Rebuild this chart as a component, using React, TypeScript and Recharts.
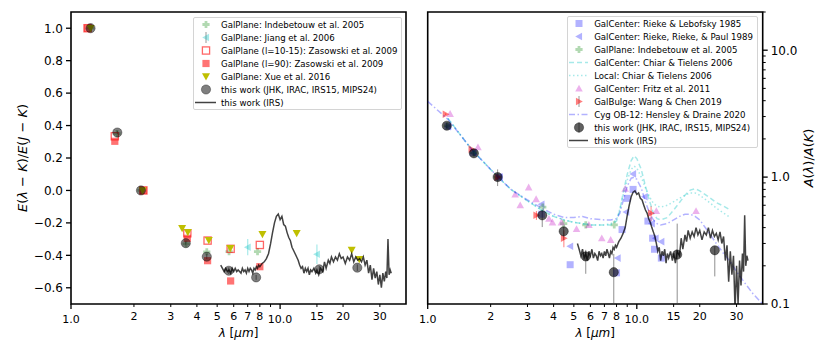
import React from "react";
import {
  ComposedChart,
  ErrorBar,
  Label,
  Legend,
  ReferenceArea,
  Scatter,
  XAxis,
  YAxis,
} from "recharts";

const FONT = '"DejaVu Sans", sans-serif';

// ---------- left panel: E(lambda - K) / E(J - K) ----------
const indebLam = [1.24, 1.66, 2.16, 3.55, 4.46, 5.7, 7.8];
const indebE = [1.0, 0.35, 0.0, -0.33, -0.378, -0.377, -0.377];

const jiangLam = [7.0, 15.0];
const jiangE = [-0.35, -0.393];
const jiangErr = [0.05, 0.06];

const zasOpenLam = [1.2, 1.62, 2.22, 3.6, 4.5, 5.8, 8.0];
const zasOpenE = [1.0, 0.334, 0.0, -0.264, -0.309, -0.36, -0.336];

const zasFullLam = [1.2, 1.62, 2.22, 3.6, 4.5, 5.8, 8.0];
const zasFullE = [1.0, 0.303, 0.0, -0.295, -0.433, -0.558, -0.47];

const xueLam = [1.24, 2.2, 3.4, 3.62, 4.56, 5.78, 8.23, 12.0, 22.0, 23.9];
const xueE = [1.0, 0.0, -0.233, -0.257, -0.307, -0.356, -0.27, -0.264, -0.367, -0.424];

const workLamL = [1.24, 1.665, 2.16, 3.54, 4.46, 5.68, 7.68, 15.4, 23.4];
const workE = [1.0, 0.357, 0.0, -0.325, -0.408, -0.495, -0.536, -0.486, -0.476];
const workEErr = [0.005, 0.01, 0.005, 0.01, 0.015, 0.02, 0.015, 0.02, 0.02];

// IRS spectrum wavelength grid (shared by both panels)
const irsLam = [
  5.2, 5.3, 5.4, 5.5, 5.6, 5.7, 5.8, 5.9, 6.0, 6.1, 6.2, 6.3, 6.4, 6.5, 6.6, 6.7, 6.8, 6.9, 7.0, 7.1,
  7.2, 7.3, 7.4, 7.5, 7.6, 7.7, 7.8, 7.9, 8.0,
  8.2, 8.4, 8.6, 8.8, 9.0, 9.2, 9.4, 9.6, 9.8, 10.0, 10.2, 10.4, 10.6, 10.8, 11.0, 11.2, 11.4, 11.6,
  11.8, 12.0, 12.2, 12.4, 12.6, 12.8, 13.0, 13.2, 13.4, 13.6, 13.8, 14.0, 14.2,
  14.5, 14.8, 15.0, 15.3, 15.6, 16.0, 16.3, 16.6, 17.0, 17.3, 17.6, 18.0, 18.4, 18.8, 19.2, 19.6, 20.0,
  20.5, 21.0, 21.5, 22.0, 22.5, 23.0, 23.5, 24.0, 24.5, 25.0, 25.5, 26.0, 26.5, 27.0, 27.5, 28.0,
  28.5, 29.0, 29.5, 30.0, 30.5, 31.0, 31.5, 32.0,
  32.4, 32.8, 33.2, 33.6, 34.0,
];

const irsE = [
  -0.46, -0.48, -0.5, -0.48, -0.5, -0.49, -0.51, -0.48, -0.5, -0.48, -0.5, -0.49, -0.5, -0.51, -0.48,
  -0.5, -0.49, -0.51, -0.48, -0.5, -0.48, -0.49, -0.51, -0.48, -0.49, -0.47, -0.48, -0.46, -0.47,
  -0.45, -0.44, -0.42, -0.39, -0.33, -0.26, -0.2, -0.16, -0.145, -0.18,
  -0.16, -0.21, -0.22, -0.26, -0.29, -0.31, -0.35, -0.37, -0.39, -0.41,
  -0.43, -0.46, -0.48, -0.47, -0.51, -0.48, -0.5, -0.48, -0.52, -0.49, -0.5,
  -0.48, -0.51, -0.49, -0.52, -0.48, -0.5, -0.44, -0.48, -0.43, -0.45, -0.41, -0.44, -0.41, -0.43,
  -0.39, -0.42, -0.41,
  -0.45, -0.41, -0.43, -0.39, -0.44, -0.41, -0.43, -0.42, -0.44, -0.41, -0.46, -0.43, -0.51, -0.46,
  -0.55, -0.48, -0.54, -0.5, -0.58, -0.52, -0.6, -0.51, -0.56, -0.5,
  -0.54, -0.3, -0.52, -0.49, -0.51,
];

// ---------- right panel: A(lambda) / A(K) ----------
const rlLam = [1.25, 1.65, 2.2, 3.5, 4.8, 8.0, 8.5, 9.0, 9.6, 11.3, 11.9, 12.15, 13.1];
const rlA = [2.52, 1.56, 1.0, 0.51, 0.204, 0.176, 0.386, 0.68, 0.8, 0.45, 0.33, 0.27, 0.23];

const rrpLam = [1.25, 1.65, 2.2, 3.5, 4.8, 8.1, 8.9, 9.6, 10.9, 11.8, 12.3, 13.1];
const rrpA = [2.5, 1.55, 1.0, 0.61, 0.285, 0.23, 0.53, 1.06, 0.7, 0.43, 0.33, 0.31];

const indebLamR = [1.24, 1.66, 2.16, 3.55, 4.47, 5.7, 7.8];
const indebA = [2.53, 1.55, 1.0, 0.58, 0.43, 0.42, 0.42];

const chiarLam = [
  1.25, 1.5, 1.65, 2.0, 2.2, 2.5, 3.0, 3.5, 4.0, 4.5, 5.0, 5.5, 6.0, 7.0, 7.5, 8.0, 8.3, 8.6, 9.0, 9.4,
  9.7, 10.0, 10.5, 11.0, 11.5, 12.0, 12.5, 13.0, 14.0, 15.0, 16.0, 17.0, 18.0, 19.0, 20.0, 22.0, 24.0,
  26.0, 27.5,
];
const chiarGcA = [
  2.9, 1.95, 1.6, 1.15, 0.98, 0.8, 0.65, 0.55, 0.49, 0.46, 0.44, 0.43, 0.42, 0.42, 0.42, 0.45, 0.55,
  0.75, 1.05, 1.35, 1.47, 1.4, 1.15, 0.85, 0.65, 0.52, 0.47, 0.46, 0.48, 0.55, 0.63, 0.72, 0.79, 0.81,
  0.78, 0.7, 0.63, 0.59, 0.56,
];
const chiarLocA = [
  2.9, 1.95, 1.6, 1.15, 0.98, 0.8, 0.65, 0.55, 0.49, 0.46, 0.44, 0.43, 0.42, 0.42, 0.43, 0.46, 0.56,
  0.72, 0.95, 1.15, 1.22, 1.18, 1.0, 0.82, 0.7, 0.62, 0.59, 0.58, 0.6, 0.64, 0.68, 0.72, 0.75, 0.75,
  0.72, 0.64, 0.57, 0.52, 0.49,
];

const fritzLam = [1.28, 1.74, 2.17, 2.62, 2.77, 3.04, 3.3, 3.8, 3.95, 4.36, 5.15, 5.9, 6.8, 7.5, 8.8, 12.4, 19.2];
const fritzA = [3.15, 1.72, 1.0, 0.73, 0.6, 0.83, 0.67, 0.47, 0.44, 0.44, 0.39, 0.42, 0.33, 0.32, 0.81, 0.54, 0.54];

const wangLam = [1.22, 1.62, 2.16, 3.31, 4.48, 11.7];
const wangA = [3.13, 1.66, 1.0, 0.5, 0.33, 0.52];
const wangErr = [0.05, 0.03, 0.02, 0.04, 0.05, 0.07];

const hdLam = [
  1.0, 1.25, 1.5, 1.65, 2.0, 2.2, 2.5, 3.0, 3.5, 4.0, 4.5, 5.0, 5.5, 6.0, 7.0, 7.5, 8.0, 8.3, 8.6, 9.0,
  9.4, 9.7, 10.0, 10.5, 11.0, 11.5, 12.0, 12.5, 13.0, 14.0, 15.0, 16.0, 17.0, 18.0, 19.0, 20.0, 22.0,
  24.0, 26.0, 28.0, 30.0, 33.0, 36.0, 40.0,
];
const hdA = [
  3.95, 2.85, 1.95, 1.6, 1.15, 0.98, 0.8, 0.66, 0.57, 0.51, 0.48, 0.48, 0.49, 0.47, 0.46, 0.46, 0.47,
  0.52, 0.65, 0.85, 0.98, 1.0, 0.96, 0.82, 0.64, 0.52, 0.46, 0.43, 0.42, 0.43, 0.46, 0.49, 0.51, 0.51,
  0.49, 0.46, 0.37, 0.3, 0.25, 0.215, 0.18, 0.145, 0.12, 0.1,
];

const workLamR = [1.234, 1.663, 2.16, 3.53, 4.47, 5.7, 7.76, 15.6, 23.6];
const workA = [2.54, 1.54, 1.0, 0.5, 0.374, 0.237, 0.178, 0.245, 0.265];
const workALow = [0.12, 0.08, 0.15, 0.096, 0.055, 0.064, 0.078, 0.145, 0.1];
const workAHigh = [0.12, 0.08, 0.15, 0.05, 0.03, 0.03, 0.07, 0.185, 0.02];

const irsA = [
  0.3, 0.27, 0.24, 0.27, 0.23, 0.25, 0.22, 0.26, 0.24, 0.27, 0.23, 0.25, 0.24, 0.22, 0.26, 0.24, 0.25,
  0.23, 0.26, 0.24, 0.27, 0.25, 0.23, 0.26, 0.25, 0.28, 0.27, 0.29, 0.28,
  0.31, 0.33, 0.36, 0.4, 0.5, 0.6, 0.7, 0.76, 0.78, 0.73,
  0.75, 0.68, 0.66, 0.6, 0.55, 0.52, 0.47, 0.44, 0.4, 0.37,
  0.34, 0.3, 0.26, 0.28, 0.22, 0.26, 0.24, 0.27, 0.21, 0.25, 0.23,
  0.26, 0.22, 0.25, 0.21, 0.26, 0.24, 0.33, 0.27, 0.35, 0.31, 0.38, 0.33, 0.37, 0.34, 0.4, 0.35, 0.38,
  0.32, 0.37, 0.35, 0.4, 0.33, 0.38, 0.34, 0.36, 0.32, 0.37, 0.3, 0.34, 0.22, 0.29, 0.15, 0.26, 0.17,
  0.24, 0.09, 0.2, 0.1, 0.22, 0.14, 0.25,
  0.18, 0.5, 0.2, 0.24, 0.22,
];

// ---------- axes ----------
const xTicks = [1, 2, 3, 4, 5, 6, 7, 8, 9, 10, 15, 20, 30];
const leftYTicks = [-0.6, -0.4, -0.2, 0, 0.2, 0.4, 0.6, 0.8, 1.0];
const rightYTicks = [
  0.1, 0.2, 0.3, 0.4, 0.5, 0.6, 0.7, 0.8, 0.9, 1, 2, 3, 4, 5, 6, 7, 8, 9, 10, 20,
];

const pts = (xs: number[], ys: number[], es?: any[]) =>
  xs.map((x, i) => ({ x, y: ys[i], e: es ? es[i] : 0 }));

type MarkSpec = {
  kind: string;
  r: number;
  fill?: string;
  fillOpacity?: number;
  stroke?: string;
  strokeOpacity?: number;
  strokeWidth?: number;
};

function Mark({ s, cx, cy }: { s: MarkSpec; cx: number; cy: number }) {
  if (cx == null || cy == null || isNaN(cx) || isNaN(cy)) return <g />;
  const r = s.r;
  const st = {
    fill: s.fill ?? "none",
    fillOpacity: s.fillOpacity ?? 1,
    stroke: s.stroke ?? "none",
    strokeOpacity: s.strokeOpacity ?? 1,
    strokeWidth: s.strokeWidth ?? 1,
  };
  const poly = (p: number[][]) => (
    <polygon points={p.map(([a, b]) => `${cx + a},${cy + b}`).join(" ")} {...st} />
  );
  switch (s.kind) {
    case "circle":
      return <circle cx={cx} cy={cy} r={r} {...st} />;
    case "square":
      return <rect x={cx - r} y={cy - r} width={2 * r} height={2 * r} {...st} />;
    case "up":
      return poly([[0, -r], [-r, r * 0.8], [r, r * 0.8]]);
    case "down":
      return poly([[0, r], [-r, -r * 0.8], [r, -r * 0.8]]);
    case "left":
      return poly([[-r, 0], [r * 0.8, -r], [r * 0.8, r]]);
    case "right":
      return poly([[r, 0], [-r * 0.8, -r], [-r * 0.8, r]]);
    case "plus": {
      const t = r / 2.6;
      return poly([
        [-t, -r], [t, -r], [t, -t], [r, -t], [r, t], [t, t],
        [t, r], [-t, r], [-t, t], [-r, t], [-r, -t], [-t, -t],
      ]);
    }
    default:
      return <g />;
  }
}

const shapeOf = (s: MarkSpec) => (p: any) => <Mark s={s} cx={p.cx} cy={p.cy} />;
const noShape = () => <g />;

// marker styles
const mIndeb: MarkSpec = { kind: "plus", r: 3.6, fill: "#008000", fillOpacity: 0.3 };
const mJiang: MarkSpec = { kind: "left", r: 3.8, fill: "#00bfbf", fillOpacity: 0.35 };
const mZasOpen: MarkSpec = { kind: "square", r: 3.6, stroke: "#ff0000", strokeOpacity: 0.6, strokeWidth: 1.3 };
const mZasFull: MarkSpec = { kind: "square", r: 3.6, fill: "#ff0000", fillOpacity: 0.55 };
const mXue: MarkSpec = { kind: "down", r: 4, fill: "#bfbf00" };
const mWorkL: MarkSpec = { kind: "circle", r: 4.6, fill: "#000", fillOpacity: 0.5, stroke: "#000", strokeOpacity: 0.35 };
const mRL: MarkSpec = { kind: "square", r: 3.5, fill: "#0000ff", fillOpacity: 0.3 };
const mRRP: MarkSpec = { kind: "left", r: 3.8, fill: "#0000ff", fillOpacity: 0.3 };
const mFritz: MarkSpec = { kind: "up", r: 3.8, fill: "#bf00bf", fillOpacity: 0.3 };
const mWang: MarkSpec = { kind: "right", r: 3.8, fill: "#ff0000", fillOpacity: 0.5 };
const mWorkR: MarkSpec = { kind: "circle", r: 4.6, fill: "#000", fillOpacity: 0.62, stroke: "#000", strokeOpacity: 0.4 };

const lineIRS = { stroke: "#000", strokeOpacity: 0.74, strokeWidth: 1.5 };
const lineChiarGc = { stroke: "#00bfbf", strokeOpacity: 0.35, strokeWidth: 1.5, strokeDasharray: "5 3" };
const lineChiarLoc = { stroke: "#00bfbf", strokeOpacity: 0.35, strokeWidth: 1.5, strokeDasharray: "1.5 2.5" };
const lineHD = { stroke: "#0000ff", strokeOpacity: 0.3, strokeWidth: 1.5, strokeDasharray: "6 2.5 1.5 2.5" };

// ---------- ticks & labels ----------
function XTick(props: any) {
  const { x, y, payload } = props;
  const v = payload.value;
  const major = v === 1 || v === 10;
  const text = v === 1 ? "1.0" : v === 10 ? "10.0" : v === 9 ? "" : String(v);
  return (
    <g>
      <line x1={x} x2={x} y1={y} y2={y + (major ? 5 : 3)} stroke="#000" strokeWidth={major ? 1.3 : 1} />
      <text x={x} y={y + (major ? 19 : 15.5)} textAnchor="middle" fontFamily={FONT} fontSize={11} fill="#000">
        {text}
      </text>
    </g>
  );
}

function LeftYTick(props: any) {
  const { x, y, payload } = props;
  const text = Number(payload.value).toFixed(1).replace("-", "\u2212");
  return (
    <g>
      <line x1={x - 5} x2={x} y1={y} y2={y} stroke="#000" strokeWidth={1.3} />
      <text x={x - 8} y={y + 4.3} textAnchor="end" fontFamily={FONT} fontSize={12} fill="#000">
        {text}
      </text>
    </g>
  );
}

function RightYTick(props: any) {
  const { x, y, payload } = props;
  const v = payload.value;
  const major = v === 0.1 || v === 1 || v === 10;
  const text = v === 0.1 ? "0.1" : v === 1 ? "1.0" : v === 10 ? "10.0" : "";
  return (
    <g>
      <line x1={x} x2={x + (major ? 5 : 3)} y1={y} y2={y} stroke="#000" strokeWidth={major ? 1.3 : 1} />
      <text x={x + 8} y={y + 4.3} textAnchor="start" fontFamily={FONT} fontSize={12} fill="#000">
        {text}
      </text>
    </g>
  );
}

function XLabel(props: any) {
  const vb = props.viewBox || { x: 0, y: 0, width: 0, height: 0 };
  return (
    <text x={vb.x + vb.width / 2} y={vb.y + 33} textAnchor="middle" fontFamily={FONT} fontSize={12} fill="#000">
      <tspan fontStyle="italic">λ</tspan> [<tspan fontStyle="italic">μm</tspan>]
    </text>
  );
}

function LeftYLabel(props: any) {
  const vb = props.viewBox || { x: 0, y: 0, width: 0, height: 0 };
  const cx = vb.x + 27;
  const cy = vb.y + vb.height / 2;
  return (
    <text transform={`translate(${cx},${cy}) rotate(-90)`} textAnchor="middle" fontFamily={FONT} fontSize={13} fill="#000">
      <tspan fontStyle="italic">E</tspan>(<tspan fontStyle="italic">λ</tspan> − <tspan fontStyle="italic">K</tspan>)/<tspan fontStyle="italic">E</tspan>(<tspan fontStyle="italic">J</tspan> − <tspan fontStyle="italic">K</tspan>)
    </text>
  );
}

function RightYLabel(props: any) {
  const vb = props.viewBox || { x: 0, y: 0, width: 0, height: 0 };
  const cx = vb.x + 50;
  const cy = vb.y + vb.height / 2;
  return (
    <text transform={`translate(${cx},${cy}) rotate(-90)`} textAnchor="middle" fontFamily={FONT} fontSize={13} fill="#000">
      <tspan fontStyle="italic">A</tspan>(<tspan fontStyle="italic">λ</tspan>)/<tspan fontStyle="italic">A</tspan>(<tspan fontStyle="italic">K</tspan>)
    </text>
  );
}

// ---------- legends ----------
type LegendItem = { label: string; mark?: MarkSpec; line?: any; err?: boolean };

const leftLegend: LegendItem[] = [
  { label: "GalPlane: Indebetouw et al. 2005", mark: mIndeb },
  { label: "GalPlane: Jiang et al. 2006", mark: mJiang, err: true },
  { label: "GalPlane (l=10-15): Zasowski et al. 2009", mark: mZasOpen },
  { label: "GalPlane (l=90): Zasowski et al. 2009", mark: mZasFull },
  { label: "GalPlane: Xue et al. 2016", mark: mXue },
  { label: "this work (JHK, IRAC, IRS15, MIPS24)", mark: mWorkL },
  { label: "this work (IRS)", line: lineIRS },
];

const rightLegend: LegendItem[] = [
  { label: "GalCenter: Rieke & Lebofsky 1985", mark: mRL },
  { label: "GalCenter: Rieke, Rieke, & Paul 1989", mark: mRRP },
  { label: "GalPlane: Indebetouw et al. 2005", mark: mIndeb },
  { label: "GalCenter: Chiar & Tielens 2006", line: lineChiarGc },
  { label: "Local: Chiar & Tielens 2006", line: lineChiarLoc },
  { label: "GalCenter: Fritz et al. 2011", mark: mFritz },
  { label: "GalBulge: Wang & Chen 2019", mark: mWang, err: true },
  { label: "Cyg OB-12: Hensley & Draine 2020", line: lineHD },
  { label: "this work (JHK, IRAC, IRS15, MIPS24)", mark: mWorkR, err: true },
  { label: "this work (IRS)", line: lineIRS },
];

function LegendBox({ items, iconW, gap }: { items: LegendItem[]; iconW: number; gap: number }) {
  return (
    <div
      style={{
        background: "rgba(255,255,255,0.8)",
        border: "1px solid #d4d4d4",
        borderRadius: 2,
        fontFamily: FONT,
        fontSize: 8.6,
        color: "#000",
      }}
    >
      {items.map((it) => (
        <div key={it.label} style={{ display: "flex", alignItems: "center", height: 13 }}>
          <svg width={iconW} height={13} style={{ display: "block" }}>
            {it.line ? (
              <line x1={1} x2={iconW - 2} y1={6.5} y2={6.5} {...it.line} />
            ) : (
              <g>
                {it.err && <line x1={iconW / 2} x2={iconW / 2} y1={1} y2={12} stroke="#555" strokeOpacity={0.6} />}
                <Mark s={it.mark as MarkSpec} cx={iconW / 2} cy={6.5} />
              </g>
            )}
          </svg>
          <span style={{ marginLeft: gap, whiteSpace: "nowrap" }}>{it.label}</span>
        </div>
      ))}
    </div>
  );
}

function LeftPanel() {
  return (
    <ComposedChart width={415} height={356} margin={{ top: 12, right: 9, bottom: 0, left: 0 }}>
      <XAxis
        type="number"
        dataKey="x"
        scale="log"
        domain={[1, 40]}
        allowDataOverflow
        ticks={xTicks}
        interval={0}
        tick={(p: any) => <XTick {...p} />}
        tickLine={false}
        axisLine={false}
        tickSize={0}
        tickMargin={0}
        height={52}
      >
        <Label content={(p: any) => <XLabel {...p} />} />
      </XAxis>
      <YAxis
        type="number"
        dataKey="y"
        domain={[-0.7, 1.1]}
        allowDataOverflow
        ticks={leftYTicks}
        interval={0}
        tick={(p: any) => <LeftYTick {...p} />}
        tickLine={false}
        axisLine={false}
        tickSize={0}
        tickMargin={0}
        width={71}
      >
        <Label content={(p: any) => <LeftYLabel {...p} />} />
      </YAxis>
      <ReferenceArea x1={1} x2={40} y1={-0.7} y2={1.1} fill="none" stroke="#000" strokeWidth={1.6} />
      <Scatter data={pts(indebLam, indebE)} shape={shapeOf(mIndeb)} isAnimationActive={false} />
      <Scatter data={pts(jiangLam, jiangE, jiangErr)} shape={shapeOf(mJiang)} isAnimationActive={false}>
        <ErrorBar dataKey="e" direction="y" width={0} stroke="#00bfbf" strokeOpacity={0.35} strokeWidth={1.2} />
      </Scatter>
      <Scatter data={pts(zasOpenLam, zasOpenE)} shape={shapeOf(mZasOpen)} isAnimationActive={false} />
      <Scatter data={pts(zasFullLam, zasFullE)} shape={shapeOf(mZasFull)} isAnimationActive={false} />
      <Scatter data={pts(xueLam, xueE)} shape={shapeOf(mXue)} isAnimationActive={false} />
      <Scatter data={pts(workLamL, workE, workEErr)} shape={shapeOf(mWorkL)} isAnimationActive={false}>
        <ErrorBar dataKey="e" direction="y" width={0} stroke="#333" strokeOpacity={0.6} strokeWidth={1} />
      </Scatter>
      <Scatter data={pts(irsLam, irsE)} line={lineIRS} shape={noShape} isAnimationActive={false} />
      <Legend
        layout="vertical"
        align="center"
        verticalAlign="middle"
        wrapperStyle={{ left: 193, top: 17, width: 209 }}
        content={() => <LegendBox items={leftLegend} iconW={24} gap={3} />}
      />
    </ComposedChart>
  );
}

function RightPanel() {
  const workErr = workALow.map((lo, i) => [lo, workAHigh[i]]);
  return (
    <ComposedChart width={415} height={356} margin={{ top: 12, right: 0, bottom: 0, left: 12.7 }}>
      <XAxis
        type="number"
        dataKey="x"
        scale="log"
        domain={[1, 40]}
        allowDataOverflow
        ticks={xTicks}
        interval={0}
        tick={(p: any) => <XTick {...p} />}
        tickLine={false}
        axisLine={false}
        tickSize={0}
        tickMargin={0}
        height={52}
      >
        <Label content={(p: any) => <XLabel {...p} />} />
      </XAxis>
      <YAxis
        type="number"
        dataKey="y"
        orientation="right"
        scale="log"
        domain={[0.1, 20]}
        allowDataOverflow
        ticks={rightYTicks}
        interval={0}
        tick={(p: any) => <RightYTick {...p} />}
        tickLine={false}
        axisLine={false}
        tickSize={0}
        tickMargin={0}
        width={67.3}
      >
        <Label content={(p: any) => <RightYLabel {...p} />} />
      </YAxis>
      <ReferenceArea x1={1} x2={40} y1={0.1} y2={20} fill="none" stroke="#000" strokeWidth={1.6} />
      <Scatter data={pts(rlLam, rlA)} shape={shapeOf(mRL)} isAnimationActive={false} />
      <Scatter data={pts(rrpLam, rrpA)} shape={shapeOf(mRRP)} isAnimationActive={false} />
      <Scatter data={pts(indebLamR, indebA)} shape={shapeOf(mIndeb)} isAnimationActive={false} />
      <Scatter data={pts(chiarLam, chiarGcA)} line={lineChiarGc} shape={noShape} isAnimationActive={false} />
      <Scatter data={pts(chiarLam, chiarLocA)} line={lineChiarLoc} shape={noShape} isAnimationActive={false} />
      <Scatter data={pts(fritzLam, fritzA)} shape={shapeOf(mFritz)} isAnimationActive={false} />
      <Scatter data={pts(wangLam, wangA, wangErr)} shape={shapeOf(mWang)} isAnimationActive={false}>
        <ErrorBar dataKey="e" direction="y" width={0} stroke="#ff0000" strokeOpacity={0.5} strokeWidth={1} />
      </Scatter>
      <Scatter data={pts(hdLam, hdA)} line={lineHD} shape={noShape} isAnimationActive={false} />
      <Scatter data={pts(workLamR, workA, workErr)} shape={shapeOf(mWorkR)} isAnimationActive={false}>
        <ErrorBar dataKey="e" direction="y" width={0} stroke="#444" strokeOpacity={0.6} strokeWidth={1} />
      </Scatter>
      <Scatter data={pts(irsLam, irsA)} line={lineIRS} shape={noShape} isAnimationActive={false} />
      <Legend
        layout="vertical"
        align="center"
        verticalAlign="middle"
        wrapperStyle={{ left: 151.7, top: 16, width: 191 }}
        content={() => <LegendBox items={rightLegend} iconW={22} gap={4.5} />}
      />
    </ComposedChart>
  );
}

export default function App() {
  return (
    <div style={{ position: "absolute", left: 0, top: 0, width: 830, height: 356, background: "#fff" }}>
      <div style={{ position: "absolute", left: 0, top: 0 }}>
        <LeftPanel />
      </div>
      <div style={{ position: "absolute", left: 415, top: 0 }}>
        <RightPanel />
      </div>
    </div>
  );
}
